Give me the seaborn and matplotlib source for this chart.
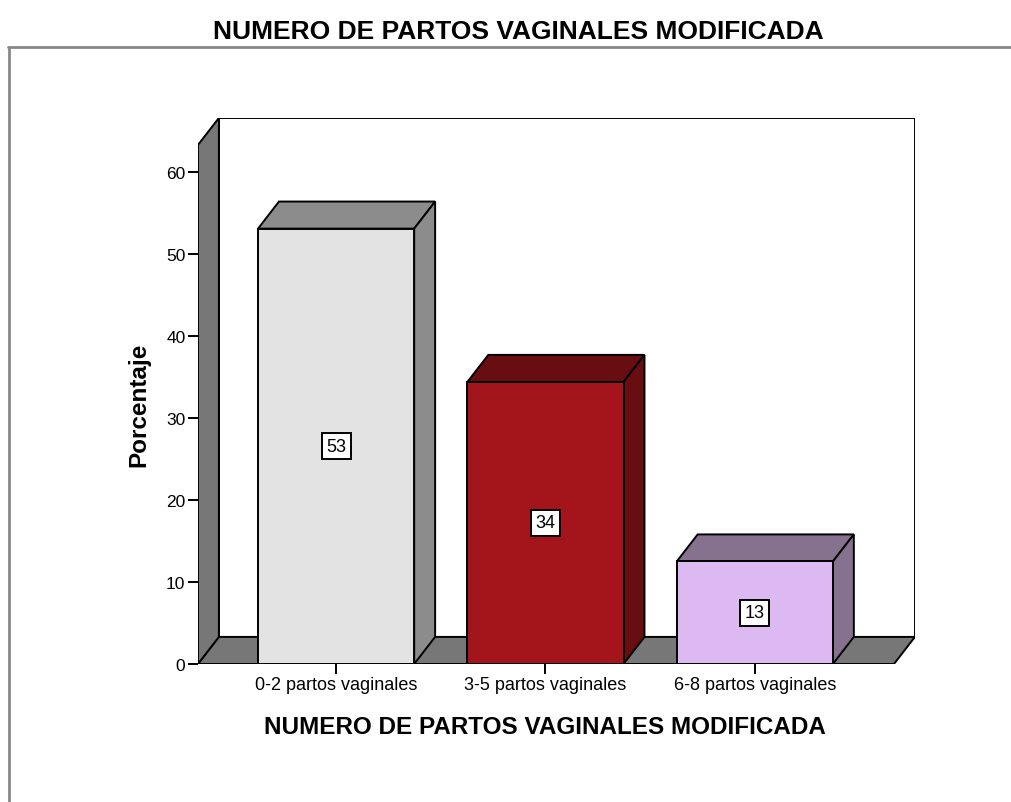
import numpy as np
import pandas as pd
import seaborn as sns
import matplotlib
matplotlib.use("Agg")
import matplotlib.pyplot as plt
from matplotlib.patches import Polygon
from matplotlib.lines import Line2D

# datos
categorias = ["0-2 partos vaginales", "3-5 partos vaginales", "6-8 partos vaginales"]
porcentajes = [53.1, 34.4, 12.5]
etiquetas = ["53", "34", "13"]
yticks = [0, 10, 20, 30, 40, 50, 60]

titulo = "NUMERO DE PARTOS VAGINALES MODIFICADA"
ylabel = "Porcentaje"

# colores (cara frontal, caras laterales)
frente = ["#e3e3e3", "#a3151b", "#dcb9f0"]
lado = ["#8c8c8c", "#680e11", "#86728f"]
gris_piso = "#777777"

data = pd.DataFrame({"cat": categorias, "pct": porcentajes})

sns.set_style("white")
plt.rcParams["font.family"] = ["Liberation Sans", "DejaVu Sans"]
plt.rcParams["text.color"] = "black"
plt.rcParams["xtick.color"] = "black"
plt.rcParams["ytick.color"] = "black"

fig = plt.figure(figsize=(10.11, 8.03), dpi=100)
ax = fig.add_axes([0.1958, 0.1719, 0.7092, 0.6800])

# profundidad 3D en unidades de datos
dx, dy = 0.10, 3.3
xL, xR = -0.66, 2.665
ytop = 66.6

g = sns.barplot(data=data, x="cat", y="pct", hue="cat", palette=frente,
                saturation=1, width=0.746, edgecolor="black", linewidth=1.4,
                legend=False, ax=ax)
barras = list(ax.patches)

# pared del fondo, piso y pared izquierda
ax.add_patch(Polygon([(xL + dx, dy), (xR + dx, dy), (xR + dx, ytop), (xL + dx, ytop)],
                     closed=True, facecolor="white", edgecolor="black", lw=1.4, zorder=0.2))
ax.add_patch(Polygon([(xL, 0), (xR, 0), (xR + dx, dy), (xL + dx, dy)],
                     closed=True, facecolor=gris_piso, edgecolor="black", lw=1.4, zorder=0.3))
ax.add_patch(Polygon([(xL, 0), (xL + dx, dy), (xL + dx, ytop), (xL, ytop - dy)],
                     closed=True, facecolor=gris_piso, edgecolor="black", lw=1.4, zorder=0.3))

# caras superior y lateral de cada barra
for i, p in enumerate(barras):
    x0, w, h = p.get_x(), p.get_width(), p.get_height()
    p.set_zorder(2)
    ax.add_patch(Polygon([(x0, h), (x0 + w, h), (x0 + w + dx, h + dy), (x0 + dx, h + dy)],
                         closed=True, facecolor=lado[i], edgecolor="black", lw=1.4, zorder=1.5))
    ax.add_patch(Polygon([(x0 + w, 0), (x0 + w + dx, dy), (x0 + w + dx, h + dy), (x0 + w, h)],
                         closed=True, facecolor=lado[i], edgecolor="black", lw=1.4, zorder=1.5))
    ax.text(x0 + w / 2, h / 2, etiquetas[i], ha="center", va="center", fontsize=13,
            color="black", zorder=3,
            bbox=dict(boxstyle="square,pad=0.25", facecolor="white",
                      edgecolor="black", lw=1.4))

ax.set_xlim(xL, xR + dx)
ax.set_ylim(0, ytop)
ax.set_yticks(yticks)
for s in ax.spines.values():
    s.set_visible(False)
ax.tick_params(axis="both", which="both", direction="out", length=7, width=1.4,
               color="black", labelcolor="black", left=True, bottom=True, pad=2)
ax.tick_params(axis="x", labelsize=13)
ax.tick_params(axis="y", labelsize=12.5)
ax.set_xlabel("")
ax.set_ylabel("")

fig.text(0.5125, 0.960, titulo, ha="center", va="center", fontsize=19,
         fontweight="bold", color="black")
fig.text(0.539, 0.0946, titulo, ha="center", va="center", fontsize=17.5,
         fontweight="bold", color="black")
fig.text(0.1375, 0.4956, ylabel, ha="center", va="center", rotation=90,
         fontsize=17.5, fontweight="bold", color="black")

# marco exterior
fig.add_artist(Line2D([0.008, 1.0], [1 - 48 / 803] * 2, color="#888888", lw=2,
                      transform=fig.transFigure))
fig.add_artist(Line2D([0.009, 0.009], [0, 1 - 48 / 803], color="#888888", lw=2,
                      transform=fig.transFigure))

fig.savefig("out.png", dpi=100)
